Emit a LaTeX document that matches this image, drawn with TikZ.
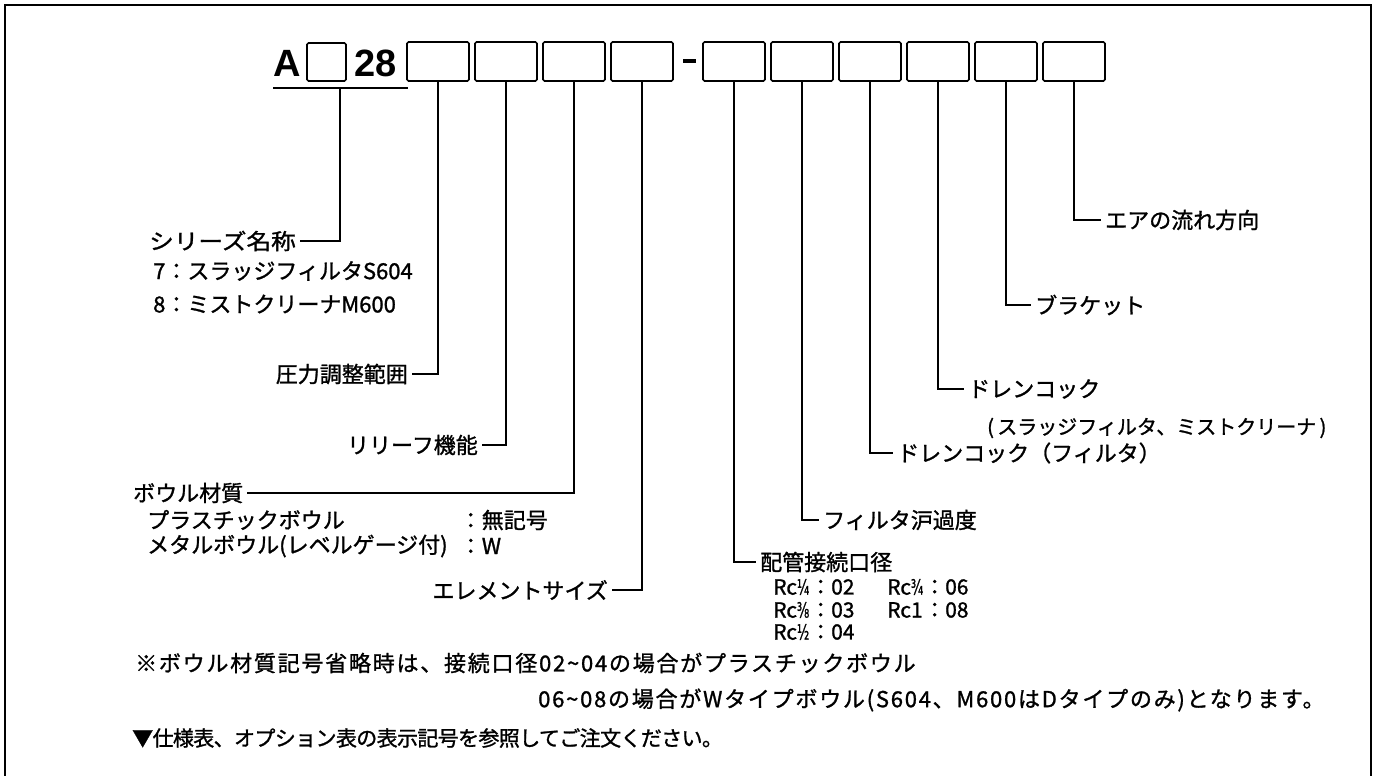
\documentclass[tikz,border=0pt]{standalone}
\usepackage{fontspec}
\setmainfont{Noto Sans CJK JP}
\newfontfamily\jpfont[FakeBold=1.2]{Noto Sans CJK JP}
\newfontfamily\notefam[FakeBold=1.2,LetterSpace=8]{Noto Sans CJK JP}
\newfontfamily\notefamB[FakeBold=1.2,LetterSpace=-3]{Noto Sans CJK JP}
\newfontfamily\titlefam{Liberation Sans}
\newfontfamily\fracfont[FakeBold=1.2]{DejaVu Sans}
\newcommand\lblfont{\jpfont\fontsize{22}{26}\selectfont}
\newcommand\notefont{\notefam\fontsize{22}{26}\selectfont}
\newcommand\notefontB{\notefamB\fontsize{21}{25}\selectfont}
\newcommand\rcfont{\jpfont\fontsize{21}{25}\selectfont}
\newcommand\fr[1]{{\fracfont\fontsize{21}{23}\selectfont\scalebox{0.6}[1]{#1}}}
\newcommand\tl{\textasciitilde}
\begin{document}
\begin{tikzpicture}[x=1pt,y=-1pt,
  lbl/.style={font=\lblfont, inner xsep=4pt, inner ysep=0pt},
  txt/.style={font=\lblfont, inner sep=0pt, anchor=west},
  note/.style={font=\notefont, inner sep=0pt, anchor=west},
  rc/.style={font=\rcfont, inner sep=0pt, anchor=west},
  codebox/.style={draw, line width=1.7pt, rounded corners=1.5pt, minimum width=62pt, minimum height=39pt, inner sep=0pt},
  conn/.style={line width=1.4pt},
  frameline/.style={line width=2.5pt}]
\useasboundingbox (0,0) rectangle (1376,776);
\draw[frameline] (5,776) -- (5,5) -- (1371,5) -- (1371,776);

% title
\node[anchor=base west, inner sep=0pt, font=\titlefam\bfseries\fontsize{38}{40}\selectfont] (A) at (273,77) {A};
\node[codebox, minimum width=39pt, minimum height=38pt] (b0) at (326.5,62) {};
\node[anchor=base west, inner sep=0pt, font=\titlefam\bfseries\fontsize{38}{40}\selectfont] (n28) at (354,77) {28};
\coordinate (ulL) at (273,88);
\coordinate (ulR) at (408,88);
\draw[conn] (ulL) -- (ulR);
\coordinate (ul) at (340,88);

% code boxes
\node[codebox] (b1) at (438,61.5) {};
\node[codebox] (b2) at (506,61.5) {};
\node[codebox] (b3) at (574,61.5) {};
\node[codebox] (b4) at (642,61.5) {};
\node[fill, minimum width=13pt, minimum height=4pt, inner sep=0pt] (dash) at (689.5,61) {};
\node[codebox] (b5) at (734,61.5) {};
\node[codebox] (b6) at (802,61.5) {};
\node[codebox] (b7) at (870,61.5) {};
\node[codebox] (b8) at (938,61.5) {};
\node[codebox] (b9) at (1006,61.5) {};
\node[codebox] (b10) at (1074,61.5) {};

% left labels
\node[lbl, anchor=east] (series) at (300,241) {\scalebox{1.12}[1]{シリーズ名称}};
\node[txt] (s7) at (153,271) {7：スラッジフィルタS604};
\node[txt] (s8) at (153,304) {8：ミストクリーナM600};
\draw[conn] (ul) |- (series.east);

\node[lbl, anchor=east] (press) at (412,374) {圧力調整範囲};
\draw[conn] (b1.south) |- (press.east);

\node[lbl, anchor=east] (relief) at (482,445) {リリーフ機能};
\draw[conn] (b2.south) |- (relief.east);

\node[lbl, anchor=west] (bowl) at (129,493) {ボウル材質};
\draw[conn] (b3.south) |- (bowl.east);
\node[txt] (plastic) at (147,520) {プラスチックボウル};
\node[txt, anchor=east] (plasticv) at (548,520) {：無記号};
\node[txt] (metal) at (147,546) {メタルボウル(レベルゲージ付)};
\node[txt, anchor=west] (metalv) at (plasticv.west |- metal.west) {：W};

\node[lbl, anchor=east] (elem) at (612,590) {エレメントサイズ};
\draw[conn] (b4.south) |- (elem.east);

% right labels
\node[lbl, anchor=west] (pipe) at (756,562) {配管接続口径};
\draw[conn] (b5.south) |- (pipe.west);
\node[rc] (r1a) at (773,587) {Rc\fr{¼}};
\node[rc] (r1b) at (810,587) {：02};
\node[rc] (r1c) at (887,587) {Rc\fr{¾}};
\node[rc] (r1d) at (924,587) {：06};
\node[rc] (r2a) at (773,610) {Rc\fr{⅜}};
\node[rc] (r2b) at (810,610) {：03};
\node[rc] (r2c) at (887,610) {Rc1};
\node[rc] (r2d) at (924,610) {：08};
\node[rc] (r3a) at (773,632) {Rc\fr{½}};
\node[rc] (r3b) at (810,632) {：04};

\node[lbl, anchor=west] (filt) at (819,520) {フィルタ沪過度};
\draw[conn] (b6.south) |- (filt.west);

\node[lbl, anchor=west] (drainf) at (893,453) {ドレンコック（フィルタ）};
\draw[conn] (b7.south) |- (drainf.west);

\node[lbl, anchor=west] (drain) at (964,389) {ドレンコック};
\draw[conn] (b8.south) |- (drain.west);
\node[txt, font=\jpfont\fontsize{20}{24}\selectfont] (drainsub) at (987,428) {(\,スラッジフィルタ、ミストクリーナ\,)};

\node[lbl, anchor=west] (bracket) at (1031,305) {ブラケット};
\draw[conn] (b9.south) |- (bracket.west);

\node[lbl, anchor=west] (air) at (1101,220) {エアの流れ方向};
\draw[conn] (b10.south) |- (air.west);

% notes
\node[note] (n1) at (135,663) {※ボウル材質記号省略時は、接続口径02\tl 04の場合がプラスチックボウル};
\node[note] (n2) at (538,700) {06\tl 08の場合がWタイプボウル(S604、M600はDタイプのみ)となります。};
\node[note, font=\notefontB] (n3) at (132,738) {▼仕様表、オプション表の表示記号を参照してご注文ください。};
\end{tikzpicture}
\end{document}
